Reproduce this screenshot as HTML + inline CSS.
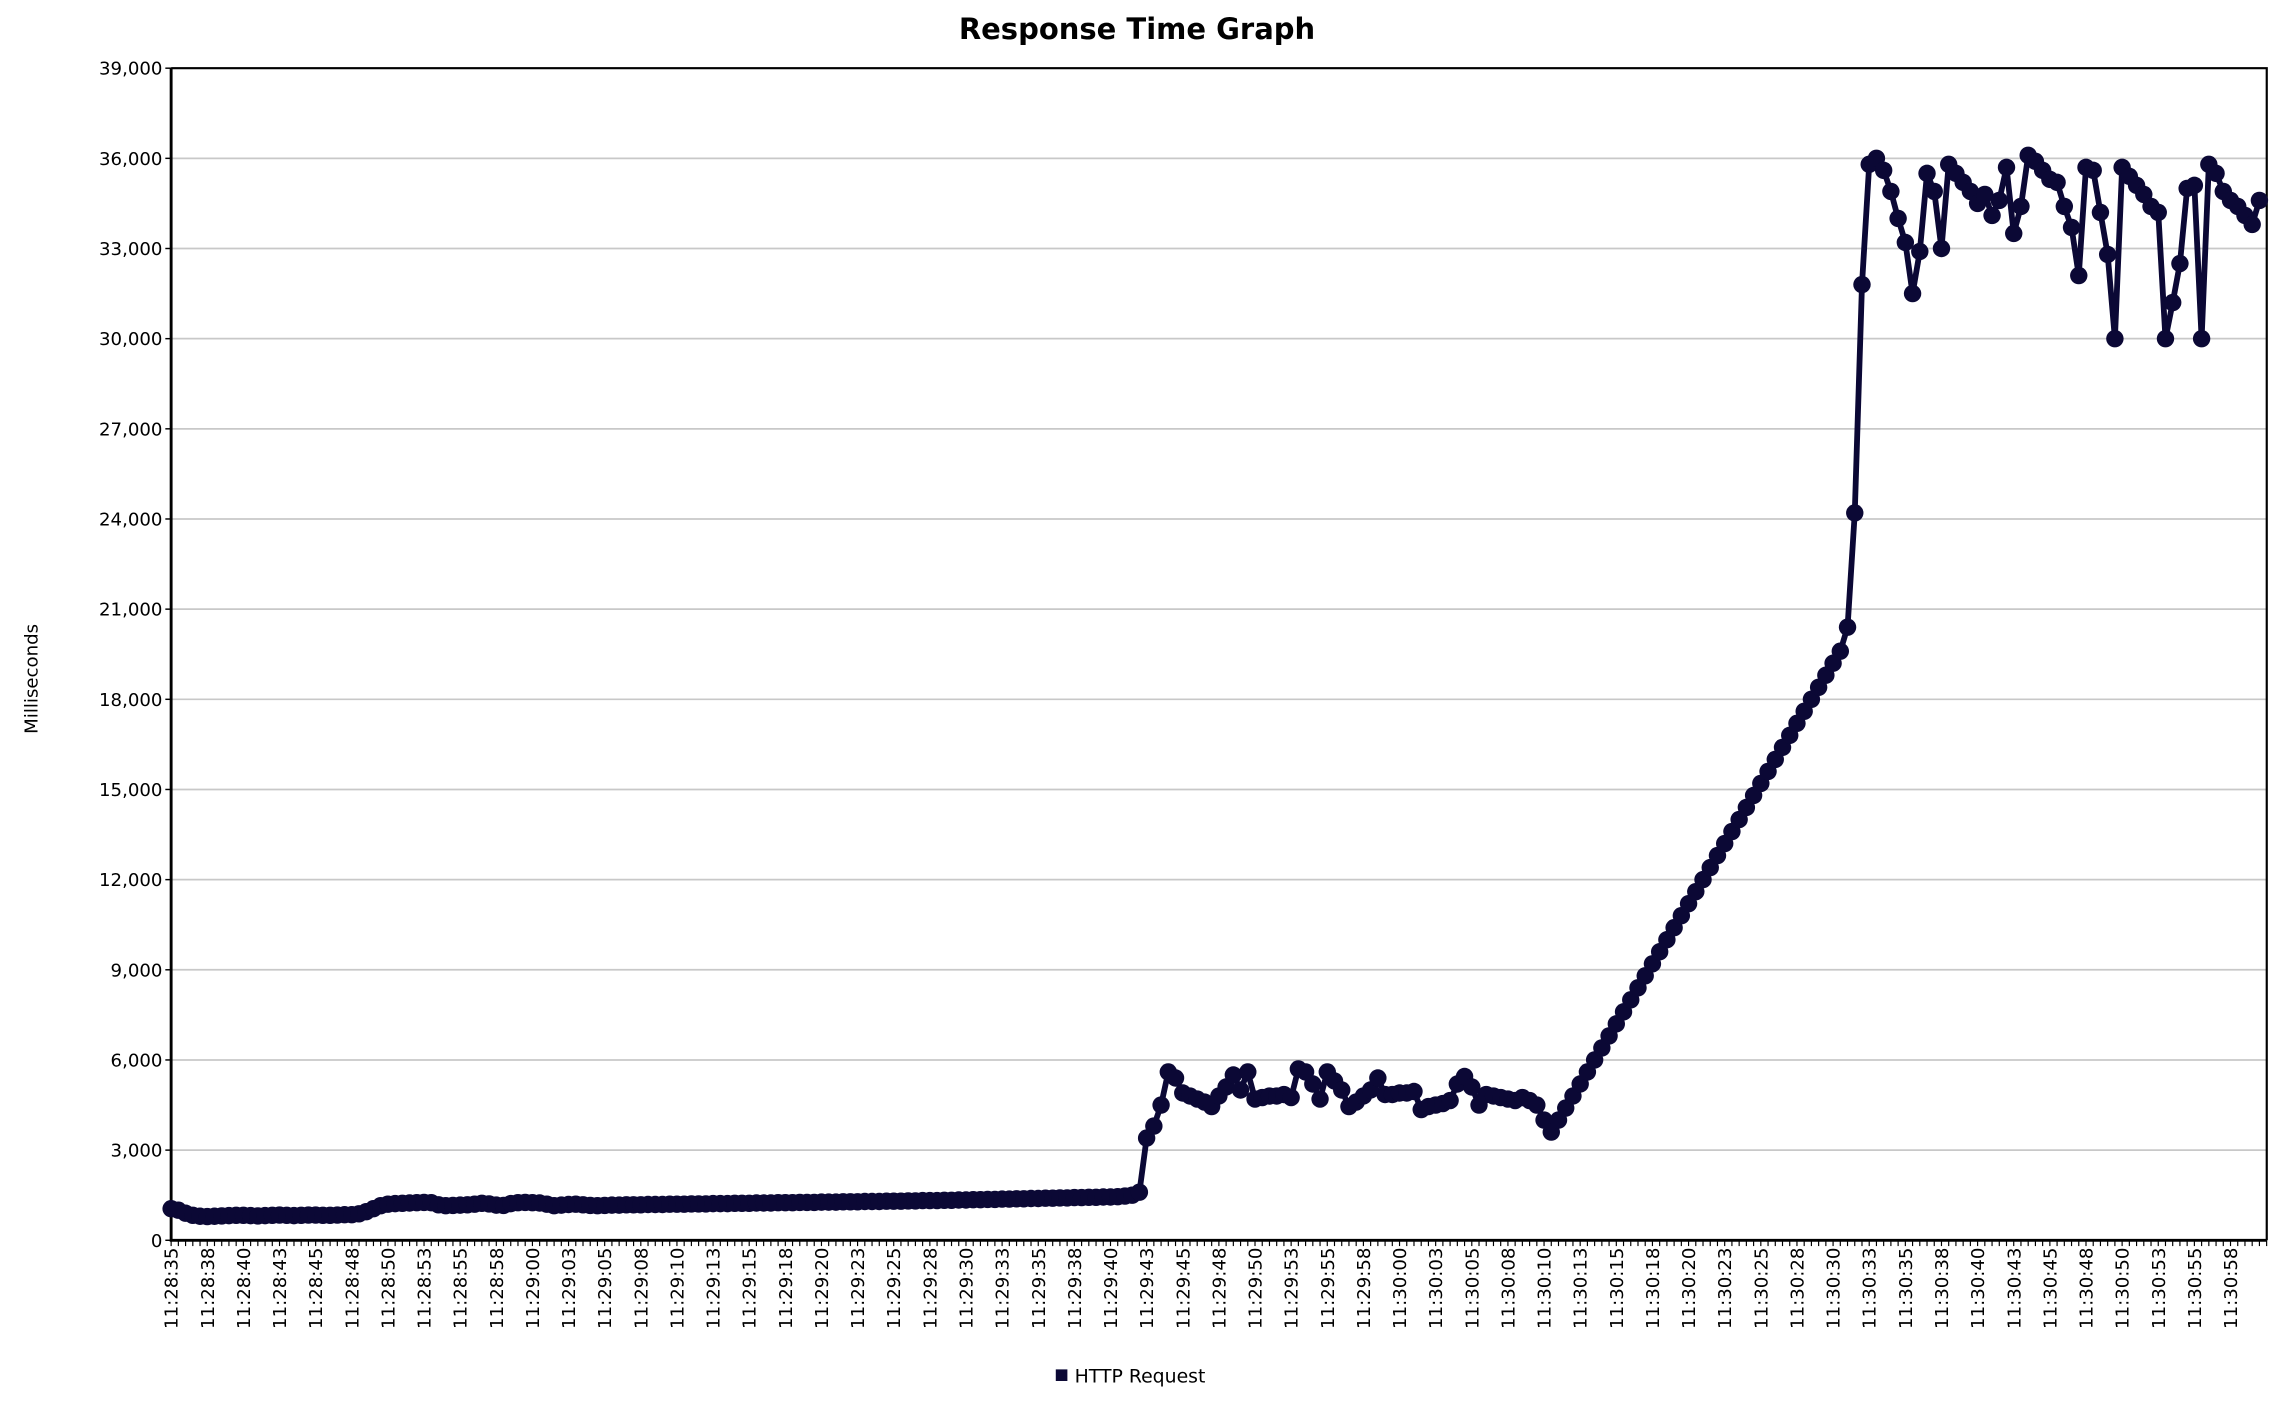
<!DOCTYPE html>
<html><head><meta charset="utf-8"><style>
html,body{margin:0;padding:0;background:#fff;}
svg{display:block;font-family:"DejaVu Sans","Liberation Sans",sans-serif;}
</style></head><body>
<svg id="chart" width="2274" height="1410" viewBox="0 0 1568 972" preserveAspectRatio="none" xmlns="http://www.w3.org/2000/svg">
<rect width="1568" height="972" fill="#fff"/>
<text x="784" y="27" text-anchor="middle" font-size="20" font-weight="bold">Response Time Graph</text>
<text transform="translate(26,468) rotate(-90)" text-anchor="middle" font-size="12.5">Milliseconds</text>
<g id="grid"></g><g id="yticks"></g><g id="xticks"></g><g id="series"></g>
<g>
<rect x="728" y="944" width="8" height="8" fill="#0b0835"/>
<text x="741" y="953" font-size="13">HTTP Request</text>
</g>
</svg>
<script>
const yTicks = [0,3000,6000,9000,12000,15000,18000,21000,24000,27000,30000,33000,36000,39000];
const startSeconds = 11*3600+28*60+35;
const stepSeconds = 0.5;
const values = [
1050,1000,900,830,800,790,800,810,820,830,830,
820,810,820,830,840,830,820,830,840,840,
830,830,840,850,850,880,950,1050,1150,1200,
1220,1230,1240,1250,1260,1250,1180,1150,1160,1170,
1180,1200,1230,1210,1170,1160,1220,1250,1260,1250,
1240,1200,1150,1170,1190,1200,1180,1160,1150,1160,
1170,1170,1180,1180,1180,1190,1190,1190,1200,1200,
1200,1210,1210,1210,1220,1220,1220,1230,1230,1230,
1240,1240,1240,1250,1250,1250,1260,1260,1260,1270,
1270,1270,1280,1280,1280,1290,1290,1290,1300,1300,
1300,1310,1310,1320,1320,1320,1330,1330,1340,1340,
1350,1350,1360,1360,1370,1370,1380,1380,1390,1390,
1400,1400,1410,1410,1420,1420,1430,1430,1440,1440,
1450,1470,1500,1600,
3400,3800,4500,5600,5400,4900,4800,4700,4600,4450,
4800,5100,5500,5000,5600,4700,4750,4800,4800,4850,
4750,5700,5600,5200,4700,5600,5300,5000,4450,4600,
4800,5000,5400,4850,4850,4900,4900,4950,4350,4450,
4500,4550,4650,5200,5450,5100,4500,4850,4800,4750,
4700,4650,4750,4650,4500,4000,3600,
4000,4400,4800,5200,5600,6000,6400,6800,7200,7600,
8000,8400,8800,9200,9600,10000,10400,10800,11200,11600,
12000,12400,12800,13200,13600,14000,14400,14800,15200,15600,
16000,16400,16800,17200,17600,18000,18400,18800,19200,19600,
20400,24200,31800,35800,36000,35600,34900,34000,33200,31500,
32900,35500,34900,33000,35800,35500,35200,34900,34500,34800,
34100,34600,35700,33500,34400,36100,35900,35600,35300,35200,
34400,33700,32100,35700,35600,34200,32800,30000,35700,35400,
35100,34800,34400,34200,30000,31200,32500,35000,35100,30000,
35800,35500,34900,34600,34400,34100,33800,34600
];
const labelStep = 2.5;
const labelCount = 58;

const NS="http://www.w3.org/2000/svg";
const L=118,R=1563,T=47,B=855,pxPerSec=9.965;
const yMax=39000;
const X=t=>L+t*pxPerSec;
const Y=v=>B-(v/yMax)*(B-T);
function mk(tag,attrs,parent){const e=document.createElementNS(NS,tag);for(const k in attrs)e.setAttribute(k,attrs[k]);parent.appendChild(e);return e;}
const grid=document.getElementById('grid'),yt=document.getElementById('yticks'),xt=document.getElementById('xticks'),ser=document.getElementById('series');
yTicks.forEach(v=>{
  if(v>0){const g=mk('line',{x1:L,x2:R,y1:Y(v),y2:Y(v),stroke:'#c8c8c8','stroke-width':1.2},grid);
  
  }
  const tk=mk('line',{x1:L-4,x2:L,y1:Y(v),y2:Y(v),stroke:'#000','stroke-width':1},yt);
  
  
  const tx=mk('text',{x:L-6,y:Y(v)+4.5,'text-anchor':'end','font-size':12.5},yt);
  tx.textContent=v.toLocaleString('en-US');
  
  
});
const fr=mk('path',{d:`M${L},${T}H${R}V${B}`,fill:'none',stroke:'#000','stroke-width':1.5},grid);


const ax=mk('path',{d:`M${L},${T}V${B}H${R}`,fill:'none',stroke:'#000','stroke-width':2},grid);


for(let t=0;t*pxPerSec<=R-L;t+=0.5){
  const m=mk('line',{x1:X(t),x2:X(t),y1:B,y2:B+4,stroke:'#000','stroke-width':0.8},xt);
  
  
}
function fmt(s){s=Math.round(s);const h=Math.floor(s/3600),m=Math.floor(s%3600/60),c=s%60;return h+':'+String(m).padStart(2,'0')+':'+String(c).padStart(2,'0');}
for(let i=0;i<labelCount;i++){
  const t=i*labelStep,x=X(t)+4.5;
  const tx=mk('text',{transform:`translate(${x},${B+5}) rotate(-90)`,'text-anchor':'end','font-size':12.5},xt);
  tx.textContent=fmt(startSeconds+t);
  
  
}
const pts=values.map((v,i)=>[X(i*stepSeconds),Y(v)]);
const line=mk('polyline',{points:pts.map(p=>p.join(',')).join(' '),fill:'none',stroke:'#0b0835','stroke-width':4,'stroke-linejoin':'round'},ser);


pts.forEach(p=>{
  const c=mk('circle',{cx:p[0],cy:p[1],r:6,fill:'#0b0835'},ser);
  
  
});
</script>
</body></html>
